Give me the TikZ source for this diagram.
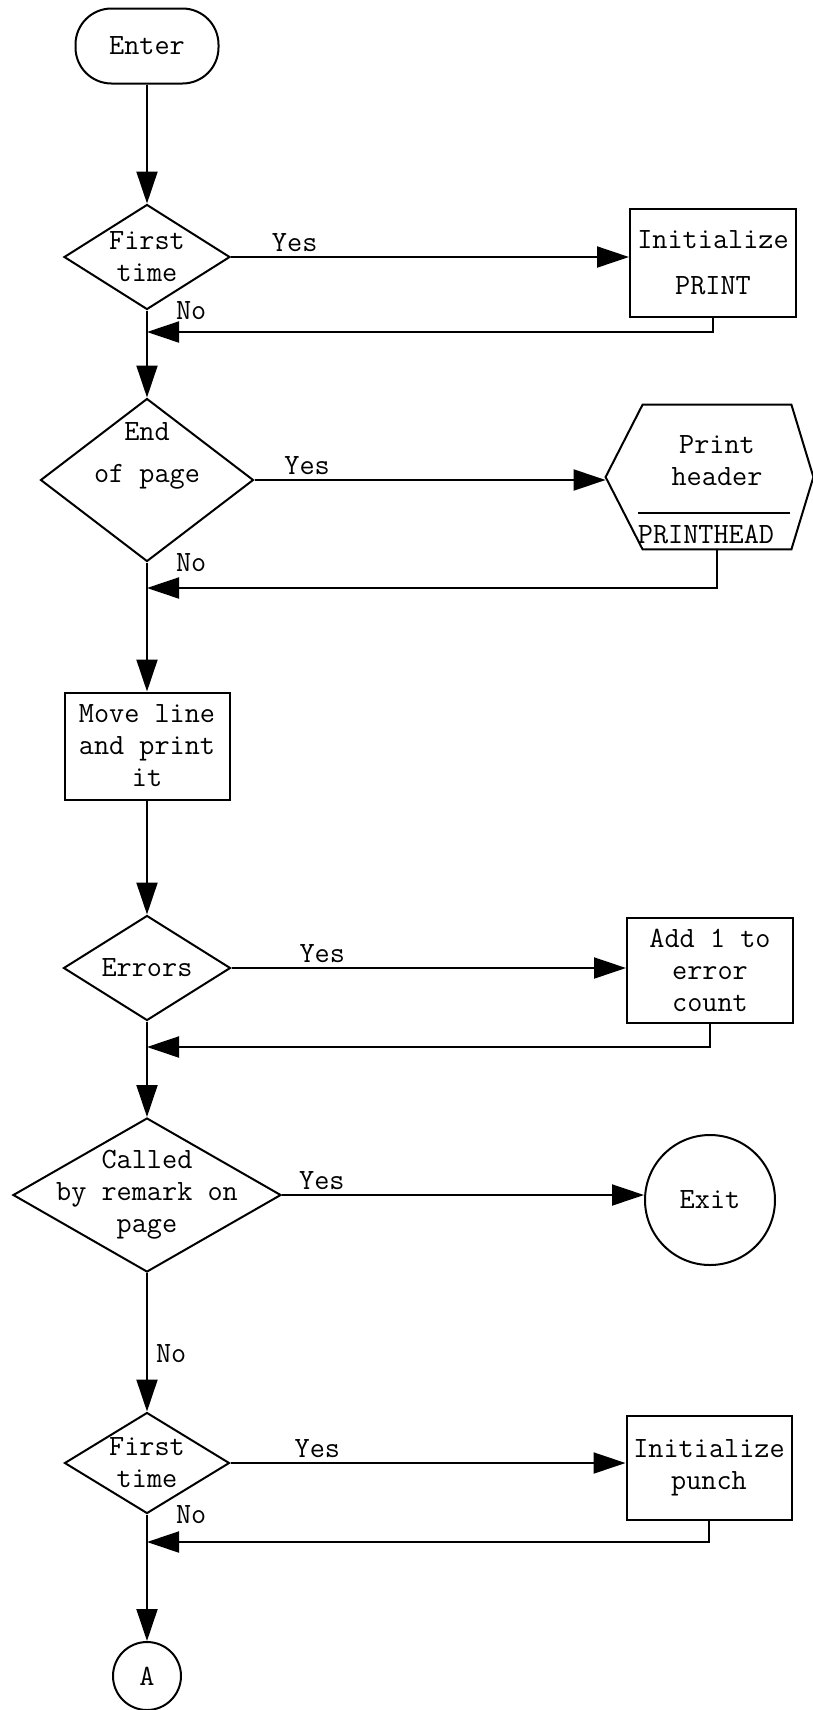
\documentclass[tikz,border=0pt]{standalone}
\usepackage{fontspec}
\usepackage{tikz}
\usetikzlibrary{arrows.meta}
\usetikzlibrary{shapes.geometric}
\usetikzlibrary{calc}

\tikzset{
	flow/.style={line width=1pt, -{Triangle[length=16pt,width=10.5pt]}},
	edgeline/.style={line width=1pt},
	box/.style={draw, line width=1pt, rectangle, inner sep=0pt, align=center},
	decision/.style={draw, line width=1pt, diamond, inner sep=0pt},
	txt/.style={align=center, inner sep=0pt},
	yes/.style={above, inner sep=2pt},
	nolab/.style={anchor=west, inner sep=0pt, xshift=14pt},
}

\begin{document}
\begin{tikzpicture}[x=0.5pt, y=-0.5pt, font=\ttfamily\fontsize{14.7pt}{16pt}\selectfont]
	\useasboundingbox (0,0) rectangle (813,1710);

	% main column
	\node[box, rounded corners=18pt, minimum width=71.5pt, minimum height=37.5pt] (enter) at (147,46) {Enter};
	\node[decision, minimum width=83pt, minimum height=52.5pt, label={[txt]center:{First\\time}}] (first1) at (147,257) {};
	\node[decision, minimum width=106.5pt, minimum height=81.5pt, label={[txt, yshift=12pt]center:{End\\[5pt]of page}}] (endpage) at (147,480) {};
	\node[box, minimum width=82.5pt, minimum height=53.5pt] (movel) at (147,746) {Move line\\and print\\it};
	\node[decision, minimum width=83.5pt, minimum height=52.5pt, label={[txt]center:Errors}] (errors) at (147,968) {};
	\node[decision, minimum width=134pt, minimum height=77pt, label={[txt]center:{Called\\by remark on\\page}}] (called) at (147,1195) {};
	\node[decision, minimum width=82.5pt, minimum height=50.5pt, label={[txt]center:{First\\time}}] (first2) at (147,1463) {};
	\node[draw, circle, line width=1pt, minimum size=34pt, inner sep=0pt] (conA) at (147,1676) {A};

	% right column
	\node[box, minimum width=83pt, minimum height=54pt] (init1) at (713,263) {Initialize\\[7pt]PRINT};
	\node[rectangle, inner sep=0pt, minimum width=74pt, minimum height=72pt,
		label={[txt, yshift=8pt]center:{Print\\header}},
		label={[txt, yshift=-28.5pt, xshift=-5.5pt]center:PRINTHEAD}] (hdr) at (717,477) {};
	\coordinate (hdrW) at ($(hdr.west)+(-37,0)$);
	\coordinate (hdrE) at ($(hdr.east)+(22,0)$);
	\draw[edgeline] (hdr.north west) -- (hdr.north east) -- (hdrE) -- (hdr.south east) -- (hdr.south west) -- (hdrW) -- cycle;
	\draw[edgeline] ($(hdr.center)+(-79,36)$) -- ($(hdr.center)+(73,36)$);
	\node[box, minimum width=83pt, minimum height=52.5pt] (add1) at (710,970) {Add 1 to\\error\\count};
	\node[draw, circle, line width=1pt, minimum size=65pt, inner sep=0pt] (exit) at (710,1200) {Exit};
	\node[box, minimum width=82.5pt, minimum height=52pt] (init2) at (709,1468) {Initialize\\punch};

	% return points
	\coordinate (j1) at (147,332);
	\coordinate (j2) at (147,588);
	\coordinate (j3) at (147,1047);
	\coordinate (j4) at (147,1542);

	\draw[flow] (enter.south) -- (first1.north);
	\draw[flow] (first1.east) -- node[yes, pos=0.16] {Yes} (first1.east -| init1.west);
	\draw[flow] (init1.south) |- (j1);
	\draw[flow] (first1.south) -- node[nolab, pos=0] {No} (endpage.north);
	\draw[flow] (endpage.east) -- node[yes, pos=0.15] {Yes} (endpage.east -| hdrW);
	\draw[flow] (hdr.south) |- (j2);
	\draw[flow] (endpage.south) -- node[nolab, pos=0] {No} (movel.north);
	\draw[flow] (movel.south) -- (errors.north);
	\draw[flow] (errors.east) -- node[yes, pos=0.23] {Yes} (errors.east -| add1.west);
	\draw[flow] (add1.south) |- (j3);
	\draw[flow] (errors.south) -- (called.north);
	\draw[flow] (called.east) -- node[yes, pos=0.11] {Yes} (called.east -| exit.west);
	\draw[flow] (called.south) -- node[right=4pt, pos=0.58, inner sep=0pt] {No} (first2.north);
	\draw[flow] (first2.east) -- node[yes, pos=0.22] {Yes} (first2.east -| init2.west);
	\draw[flow] (init2.south) |- (j4);
	\draw[flow] (first2.south) -- node[nolab, pos=0] {No} (conA.north);
\end{tikzpicture}
\end{document}
